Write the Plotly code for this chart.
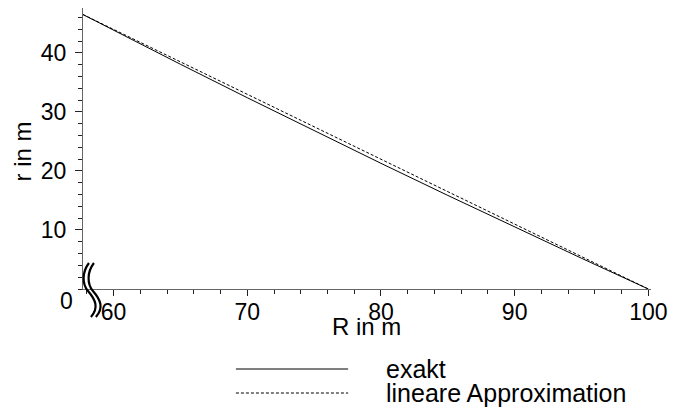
import plotly.graph_objects as go

# Data
R_vals = [57.7, 60, 65, 70, 75, 80, 85, 90, 95, 100]
r_exakt = [46.5, 43.83, 38.07, 32.40, 26.80, 21.29, 15.85, 10.49, 5.21, 0.0]
r_linear = [46.5, 43.97, 38.47, 32.98, 27.48, 21.99, 16.49, 10.99, 5.50, 0.0]
x_ticks = [60, 70, 80, 90, 100]
y_ticks = [10, 20, 30, 40]
series_names = ["exakt", "lineare Approximation"]

W, H = 675, 408
L, R, T, B = 83, 20, 8, 119
PW, PH = W - L - R, H - T - B
FONT = "Liberation Sans, Arial, Helvetica, sans-serif"


def px(x):
    return (x - L) / PW


def py(y):
    return (H - B - y) / PH


fig = go.Figure()
fig.add_trace(go.Scatter(x=R_vals, y=r_exakt, mode="lines", name=series_names[0],
                         line=dict(color="black", width=1), showlegend=False))
fig.add_trace(go.Scatter(x=R_vals, y=r_linear, mode="lines", name=series_names[1],
                         line=dict(color="black", width=1, dash="3px,2px"), showlegend=False))

axis_common = dict(showgrid=False, zeroline=False, showline=True, linecolor="#666",
                   linewidth=1, ticks="outside", tickcolor="#222", tickwidth=1,
                   tickfont=dict(family=FONT, size=23, color="black"))

fig.update_xaxes(range=[57.71, 100.2], tickvals=x_ticks, ticklen=6,
                 minor=dict(dtick=2, tick0=0, ticklen=4, ticks="outside", tickcolor="#222"),
                 ticklabelstandoff=-4, **axis_common)
fig.update_yaxes(range=[0, 47.6], tickvals=y_ticks, ticklen=7,
                 minor=dict(dtick=2, tick0=0, ticklen=4, ticks="outside", tickcolor="#222"),
                 ticklabelstandoff=4, **axis_common)

shapes = []
annotations = []

# axis break marks (two wavy lines)
for off in (0, 5):
    pts = [(89 + off, 263), (82 + off, 272), (82 + off, 284), (88 + off, 291),
           (96 + off, 300), (99 + off, 308), (91 + off, 317)]
    p = [(px(a), py(b)) for a, b in pts]
    path = "M {0},{1} C {2},{3} {4},{5} {6},{7} C {8},{9} {10},{11} {12},{13}".format(
        *[v for xy in p for v in xy])
    shapes.append(dict(type="path", xref="paper", yref="paper", path=path,
                       line=dict(color="black", width=2.2)))

# legend
leg_y = [369, 393]
dashes = ["solid", "3px,2px"]
for name, yy, d in zip(series_names, leg_y, dashes):
    shapes.append(dict(type="line", xref="paper", yref="paper",
                       x0=px(237), x1=px(350), y0=py(yy), y1=py(yy),
                       line=dict(color="black", width=1, dash=d)))
    annotations.append(dict(xref="paper", yref="paper", x=px(386), y=py(yy),
                            xanchor="left", yanchor="middle", showarrow=False,
                            text=name, font=dict(family=FONT, size=25, color="black")))

# axis titles and the y zero label
annotations.append(dict(xref="paper", yref="paper", x=px(368), y=py(326),
                        xanchor="center", yanchor="middle", showarrow=False,
                        text="R in m", font=dict(family=FONT, size=24, color="black")))
annotations.append(dict(xref="paper", yref="paper", x=px(22), y=py(151),
                        xanchor="center", yanchor="middle", showarrow=False, textangle=-90,
                        text="r in m", font=dict(family=FONT, size=24, color="black")))
annotations.append(dict(xref="paper", yref="paper", x=px(66), y=py(301),
                        xanchor="center", yanchor="middle", showarrow=False,
                        text="0", font=dict(family=FONT, size=23, color="black")))

fig.update_layout(width=W, height=H, margin=dict(l=L, r=R, t=T, b=B),
                  plot_bgcolor="white", paper_bgcolor="white",
                  shapes=shapes, annotations=annotations, showlegend=False)

fig.write_html("out.html", config={"displayModeBar": False},
               post_script="document.body.style.margin='0';document.body.style.overflow='hidden';")
